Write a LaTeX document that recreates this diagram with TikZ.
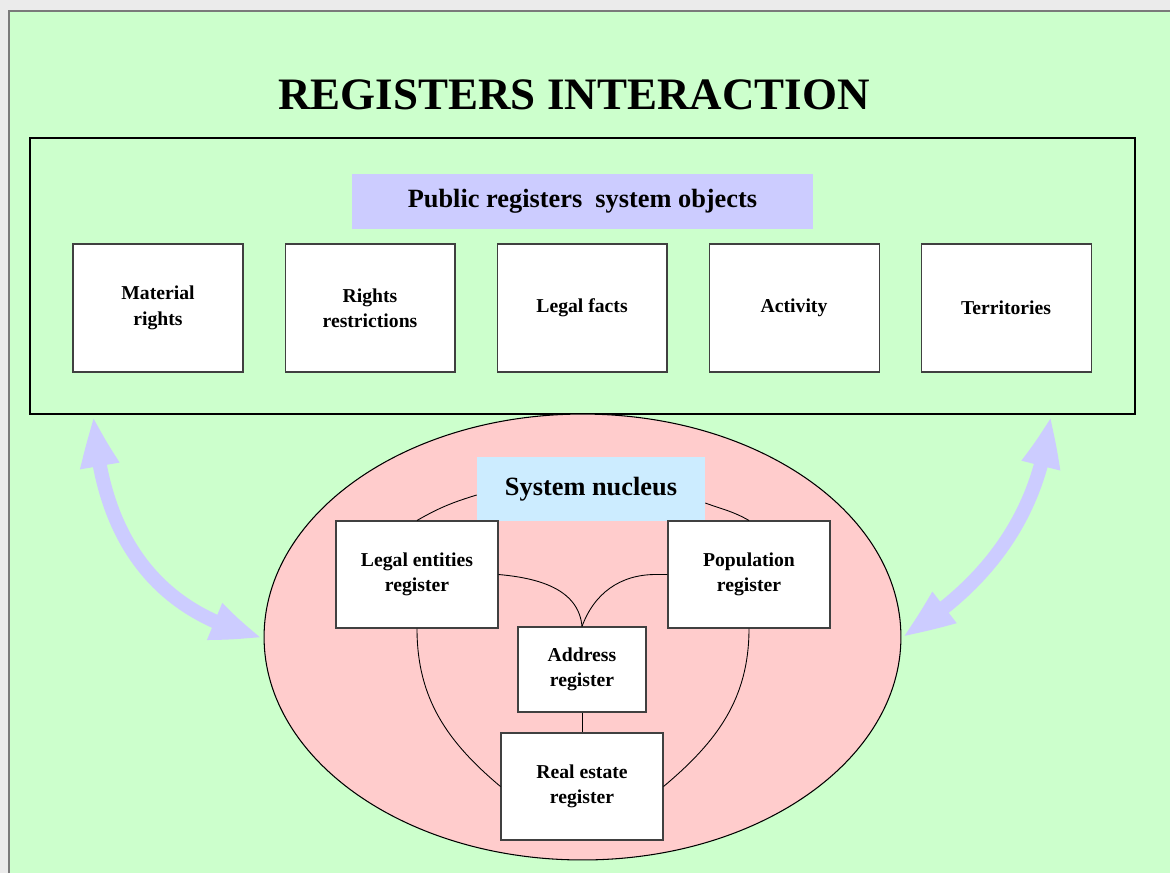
\documentclass[tikz,border=0pt]{standalone}
\usepackage{fontspec}
\setmainfont{Liberation Serif}
\usetikzlibrary{positioning}
\usetikzlibrary{shapes.geometric}
\usetikzlibrary{arrows.meta}
\usetikzlibrary{bending}

\definecolor{pagegrey}{HTML}{EBEBEB}
\definecolor{edgegrey}{HTML}{7A7A7A}
\definecolor{bggreen}{HTML}{CCFFCC}
\definecolor{lavender}{HTML}{CCCCFF}
\definecolor{nucblue}{HTML}{CCECFF}
\definecolor{nucpink}{HTML}{FFCCCC}

\begin{document}
\begin{tikzpicture}[x=0.02cm,y=-0.02cm,
	objbox/.style={draw=black!75, line width=0.6pt, fill=white, minimum width=3.4cm, minimum height=2.56cm, inner sep=1pt, align=center, font=\fontsize{11.2}{14.5}\selectfont\bfseries},
	regbox/.style={objbox, minimum width=3.24cm, minimum height=2.14cm},
	banner/.style={inner sep=0pt, font=\fontsize{15}{18}\selectfont\bfseries},
	link/.style={black, line width=0.5pt},
	flow/.style={lavender, line width=8pt, {Triangle[width=20pt,length=30pt,bend]}-{Triangle[width=20pt,length=30pt,bend]}}]
	% page and background
	\useasboundingbox (0,0) rectangle (1170,873);
	\fill [pagegrey] (0,0) rectangle (1170,873);
	\fill [bggreen] (9,11) rectangle (1170,873);
	\draw [edgegrey, line width=1.2pt] (9,873) -- (9,11) -- (1170,11);

	\node [font=\fontsize{25.6}{30}\selectfont\bfseries] (title) at (574,95) {REGISTERS INTERACTION};

	% public registers system objects
	\node [draw, line width=0.7pt, minimum width=22.1cm, minimum height=5.52cm] (frame) at (582.5,276) {};
	\node [banner, fill=lavender, minimum width=9.22cm, minimum height=1.1cm] (objects) at (582.5,201.5) {Public registers~ system objects};
	\node [objbox] (m1) at (158,308) {Material\\rights};
	\node [objbox, right=0.82cm of m1] (m2) {Rights\\restrictions};
	\node [objbox, right=0.82cm of m2] (m3) {Legal facts};
	\node [objbox, right=0.82cm of m3] (m4) {Activity};
	\node [objbox, right=0.82cm of m4] (m5) {Territories};

	% system nucleus
	\node [ellipse, draw, fill=nucpink, line width=0.6pt, inner sep=0pt, minimum width=12.74cm, minimum height=8.92cm] (core) at (582.5,637) {};
	\node [banner, fill=nucblue, minimum width=4.56cm, minimum height=1.28cm] (nucleus) at (591,489) {System nucleus};
	\node [regbox] (legal) at (417,574.5) {Legal entities\\register};
	\node [regbox] (people) at (749,574.5) {Population\\register};
	\node [regbox, minimum width=2.56cm, minimum height=1.7cm] (address) at (582,669.5) {Address\\register};
	\node [regbox] (estate) at (582,786.5) {Real estate\\register};

	\draw [link] (legal.north) to[out=30,in=197] (nucleus.183);
	\draw [link] (people.north) to[out=150,in=-20] (nucleus.353);
	\draw [link] (legal.east) to[out=-5,in=95] (address.north);
	\draw [link] (people.west) -- ++(-12,0) to[out=180,in=70] (address.north);
	\draw [link] (legal.south) to[out=-90,in=140] (estate.west);
	\draw [link] (people.south) to[out=-90,in=40] (estate.east);
	\draw [link] (address.south) -- (estate.north);

	% interaction arrows
	\coordinate (ltop) at (94,415);
	\coordinate (rtop) at (1050,415);
	\draw [flow] (ltop) .. controls (100,540) and (160,615) .. (core.west);
	\draw [flow] (rtop) .. controls (1040,520) and (980,590) .. (core.east);
\end{tikzpicture}
\end{document}
